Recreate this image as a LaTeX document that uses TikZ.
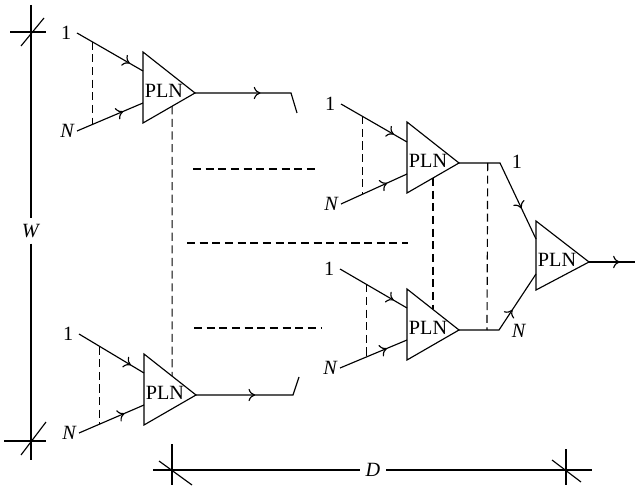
\documentclass[tikz,border=0pt]{standalone}
\usepackage{fontspec}
\setmainfont{Liberation Serif}
\usetikzlibrary{arrows.meta,calc,decorations.markings}

\begin{document}
\begin{tikzpicture}[
    x=0.02cm, y=-0.02cm,
    line width=0.65pt,
    pln/.style={inner sep=0pt, font=\fontsize{11.5}{13}\selectfont},
    lbl/.style={inner sep=3pt, font=\fontsize{11.5}{13}\selectfont},
    feed/.style={postaction={decorate}, decoration={markings, mark=at position #1 with {\arrow{To[length=3.8pt,width=7pt]}}}},
    feed/.default=0.75,
    gap/.style={dash pattern=on 4.6pt off 2.6pt}
]
\useasboundingbox (0,0) rectangle (635,489);

% Stage 1: upper amplifier
\coordinate (t1t) at (143,52);
\coordinate (t1b) at (143,123);
\coordinate (t1a) at (195,93);
\coordinate (t1i) at (143,71);
\coordinate (t1j) at (143,103);
\coordinate (t1o) at (291,93);
\coordinate (t1e) at (297,113);
\draw (t1t) -- (t1b) -- (t1a) -- cycle;
\node[pln] (t1) at (164,91) {PLN};
\node[lbl, anchor=east] (t1one) at (77,33) {1};
\node[lbl, anchor=east, inner sep=1pt] (t1n) at (77,131) {\textit{N}};
\draw[feed=0.8] (t1one.east) -- (t1i);
\draw[feed=0.7] (t1n.east) -- (t1j);
\draw[gap] ($(t1one.east)!0.23!(t1i)$) -- ($(t1n.east)!0.23!(t1j)$);
\draw[feed=0.56] (t1a) -- (t1o) -- (t1e);

% Stage 1: lower amplifier
\coordinate (t2t) at (144,354);
\coordinate (t2b) at (144,425);
\coordinate (t2a) at (196,395);
\coordinate (t2i) at (144,373);
\coordinate (t2j) at (144,405);
\coordinate (t2o) at (293,395);
\coordinate (t2e) at (299,377);
\draw (t2t) -- (t2b) -- (t2a) -- cycle;
\node[pln] (t2) at (165,393) {PLN};
\node[lbl, anchor=east] (t2one) at (79,334) {1};
\node[lbl, anchor=east, inner sep=1pt] (t2n) at (79,433) {\textit{N}};
\draw[feed=0.8] (t2one.east) -- (t2i);
\draw[feed=0.7] (t2n.east) -- (t2j);
\draw[gap] ($(t2one.east)!0.32!(t2i)$) -- ($(t2n.east)!0.32!(t2j)$);
\draw[feed=0.51] (t2a) -- (t2o) -- (t2e);

% Stage 2: upper amplifier
\coordinate (t3t) at (407,122);
\coordinate (t3b) at (407,193);
\coordinate (t3a) at (459,163);
\coordinate (t3i) at (407,142);
\coordinate (t3j) at (407,174);
\coordinate (t3o) at (500,163);
\draw (t3t) -- (t3b) -- (t3a) -- cycle;
\node[pln] (t3) at (428,161) {PLN};
\node[lbl, anchor=east] (t3one) at (341,104) {1};
\node[lbl, anchor=east, inner sep=1pt] (t3n) at (341,204) {\textit{N}};
\draw[feed=0.8] (t3one.east) -- (t3i);
\draw[feed=0.7] (t3n.east) -- (t3j);
\draw[gap] ($(t3one.east)!0.32!(t3i)$) -- ($(t3n.east)!0.32!(t3j)$);

% Stage 2: lower amplifier
\coordinate (t4t) at (407,289);
\coordinate (t4b) at (407,360);
\coordinate (t4a) at (459,330);
\coordinate (t4i) at (407,308);
\coordinate (t4j) at (407,340);
\coordinate (t4o) at (499,330);
\draw (t4t) -- (t4b) -- (t4a) -- cycle;
\node[pln] (t4) at (428,328) {PLN};
\node[lbl, anchor=east] (t4one) at (340,269) {1};
\node[lbl, anchor=east, inner sep=1pt] (t4n) at (340,368) {\textit{N}};
\draw[feed=0.8] (t4one.east) -- (t4i);
\draw[feed=0.7] (t4n.east) -- (t4j);
\draw[gap] ($(t4one.east)!0.39!(t4i)$) -- ($(t4n.east)!0.39!(t4j)$);

% Final amplifier
\coordinate (t5t) at (536,221);
\coordinate (t5b) at (536,290);
\coordinate (t5a) at (589,262);
\coordinate (t5i) at (536,239);
\coordinate (t5j) at (536,274);
\coordinate (t5o) at (635,262);
\draw (t5t) -- (t5b) -- (t5a) -- cycle;
\node[pln] (t5) at (557,260) {PLN};
\draw[feed=0.73] (t3a) -- (t3o) -- (t5i);
\draw[feed=0.6] (t4a) -- (t4o) -- (t5j);
\node[lbl] (t5one) at (517,162) {1};
\node[lbl] (t5n) at (519,331) {\textit{N}};
\draw[feed=0.67] (t5a) -- (t5o);

% links between amplifiers
\draw[gap] ($(t1b)!0.56!(t1a)$) -- ($(t2t)!0.54!(t2a)$);
\draw[gap] ($(t3b)!0.5!(t3a)$) -- ($(t4t)!0.5!(t4a)$);
\draw[gap] ($(t3a)!0.7!(t3o)$) -- ($(t4a)!0.7!(t4o)$);

% omitted stages
\draw[gap] (193,169) -- (316,169);
\draw[gap] (187,243) -- (408,243);
\draw[gap] (194,328) -- (321,328);

% width W
\node[lbl] (wlen) at (31,231) {\textit{W}};
\coordinate (wtop) at (31,5);
\coordinate (wbot) at (31,460);
\draw (wtop) -- (wlen.north);
\draw (wlen.south) -- (wbot);
\draw (10,32) -- (46,32);
\draw (21,46) -- (44,18);
\draw (4,441) -- (46,441);
\draw (21,455) -- (46,422);

% depth D
\node[lbl] (dlen) at (373,470) {\textit{D}};
\coordinate (dleft) at (153,470);
\coordinate (dright) at (592,470);
\draw (dleft) -- (dlen.west);
\draw (dlen.east) -- (dright);
\draw (172,444) -- (172,485);
\draw (159,461) -- (192,485);
\draw (566,449) -- (566,485);
\draw (552,460) -- (581,482);

\end{tikzpicture}
\end{document}
